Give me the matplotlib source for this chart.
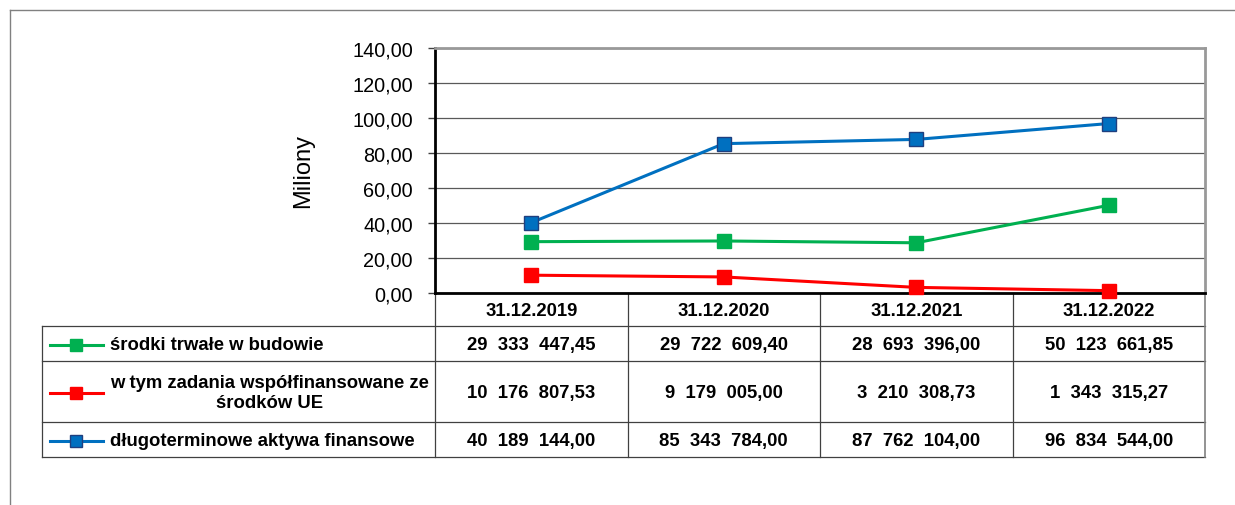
import numpy as np
import matplotlib.pyplot as plt
from matplotlib import font_manager
from matplotlib.ticker import FuncFormatter

# dane
daty = ['31.12.2019', '31.12.2020', '31.12.2021', '31.12.2022']
nazwy = ['środki trwałe w budowie',
         'w tym zadania współfinansowane ze\nśrodków UE',
         'długoterminowe aktywa finansowe']
srodki_trwale = [29333447.45, 29722609.40, 28693396.00, 50123661.85]
zadania_ue = [10176807.53, 9179005.00, 3210308.73, 1343315.27]
aktywa_fin = [40189144.00, 85343784.00, 87762104.00, 96834544.00]
serie = [srodki_trwale, zadania_ue, aktywa_fin]
kolory = ['#00B050', '#FF0000', '#0070C0']
krawedzie = ['#00B050', '#FF0000', '#1F3F7F']
y_ticks = np.arange(0, 141, 20)

# czcionki (waska jesli jest, inaczej zwykla pomniejszona)
dostepne = {f.name for f in font_manager.fontManager.ttflist}
if 'Liberation Sans Narrow' in dostepne:
    waska = 'Liberation Sans Narrow'
    r_tick, r_tab = 16.5, 16
else:
    waska = 'Liberation Sans'
    r_tick, r_tab = 14.3, 13.3
plt.rcParams['font.family'] = ['Liberation Sans', 'DejaVu Sans']


def fmt_pl(v):
    s = f'{v:,.2f}'
    return s.replace(',', '  ').replace('.', ',')


W, H = 1235, 506
fig = plt.figure(figsize=(W / 100, H / 100), dpi=100)

# nakladka w pikselach - ramka i tabela
tab = fig.add_axes([0, 0, 1, 1], zorder=0)
tab.set_xlim(0, W)
tab.set_ylim(H, 0)
tab.axis('off')

# wykres
px_l, px_r, px_t, px_b = 435, 1205, 49, 294
ax = fig.add_axes([px_l / W, 1 - px_b / H, (px_r - px_l) / W, (px_b - px_t) / H], zorder=2)
ax.patch.set_alpha(0)

x = np.arange(len(daty))
for s, c, e in zip(serie, kolory, krawedzie):
    ax.plot(x, np.array(s) / 1e6, color=c, lw=2.2, marker='s', markersize=10,
            markerfacecolor=c, markeredgecolor=e, markeredgewidth=1.0,
            clip_on=False, zorder=5)

ax.set_xlim(-0.5, len(daty) - 0.5)
ax.set_ylim(0, 140)
ax.set_yticks(y_ticks)
ax.yaxis.set_major_formatter(FuncFormatter(lambda v, p: f'{v:.2f}'.replace('.', ',')))
ax.set_xticks([])
ax.grid(axis='y', color='#595959', lw=0.9)
ax.set_axisbelow(True)
for lab in ax.get_yticklabels():
    lab.set_fontfamily(waska)
    lab.set_fontsize(r_tick)
ax.tick_params(axis='y', direction='out', length=5, width=1, color='#404040', pad=11)
ax.spines['left'].set_linewidth(2)
ax.spines['left'].set_color('black')
ax.spines['bottom'].set_linewidth(2)
ax.spines['bottom'].set_color('black')
ax.spines['top'].set_linewidth(2)
ax.spines['top'].set_color('#999999')
ax.spines['right'].set_linewidth(2)
ax.spines['right'].set_color('#999999')
ax.set_ylabel('Miliony', fontsize=17)
ax.yaxis.set_label_coords(-0.157, 0.5)

# ramka zewnetrzna
tab.plot([10, W], [11, 11], color='#808080', lw=1)
tab.plot([10, 10], [11, H], color='#808080', lw=1)

# tabela
kol = np.linspace(px_l, px_r, len(daty) + 1)
wiersze = [294, 327, 362, 423, 458]
lewa = 42
lc = '#404040'
for yy in wiersze[1:]:
    tab.plot([lewa, px_r], [yy, yy], color=lc, lw=0.9)
tab.plot([lewa, lewa], [wiersze[1], wiersze[-1]], color=lc, lw=0.9)
for xx in kol[:-1]:
    tab.plot([xx, xx], [wiersze[0], wiersze[-1]], color=lc, lw=0.9)
tab.plot([px_r, px_r], [wiersze[0], wiersze[-1]], color='#808080', lw=1.2)

bold = dict(fontfamily=waska, fontsize=r_tab, fontweight='bold', va='center')
for i, d in enumerate(daty):
    tab.text((kol[i] + kol[i + 1]) / 2, (wiersze[0] + wiersze[1]) / 2 + 1, d, ha='center', **bold)

for r, (nazwa, s, c, e) in enumerate(zip(nazwy, serie, kolory, krawedzie)):
    yc = (wiersze[r + 1] + wiersze[r + 2]) / 2 + 1
    tab.plot([50, 103], [yc, yc], color=c, lw=2.2)
    tab.plot([76], [yc], marker='s', markersize=8, color=c, markeredgecolor=e, markeredgewidth=1)
    tab.text(110, yc, nazwa, ha='left', multialignment='center', linespacing=1.25, **bold)
    for i, v in enumerate(s):
        tab.text((kol[i] + kol[i + 1]) / 2, yc, fmt_pl(v), ha='center', **bold)

fig.savefig('out.png', dpi=100)
